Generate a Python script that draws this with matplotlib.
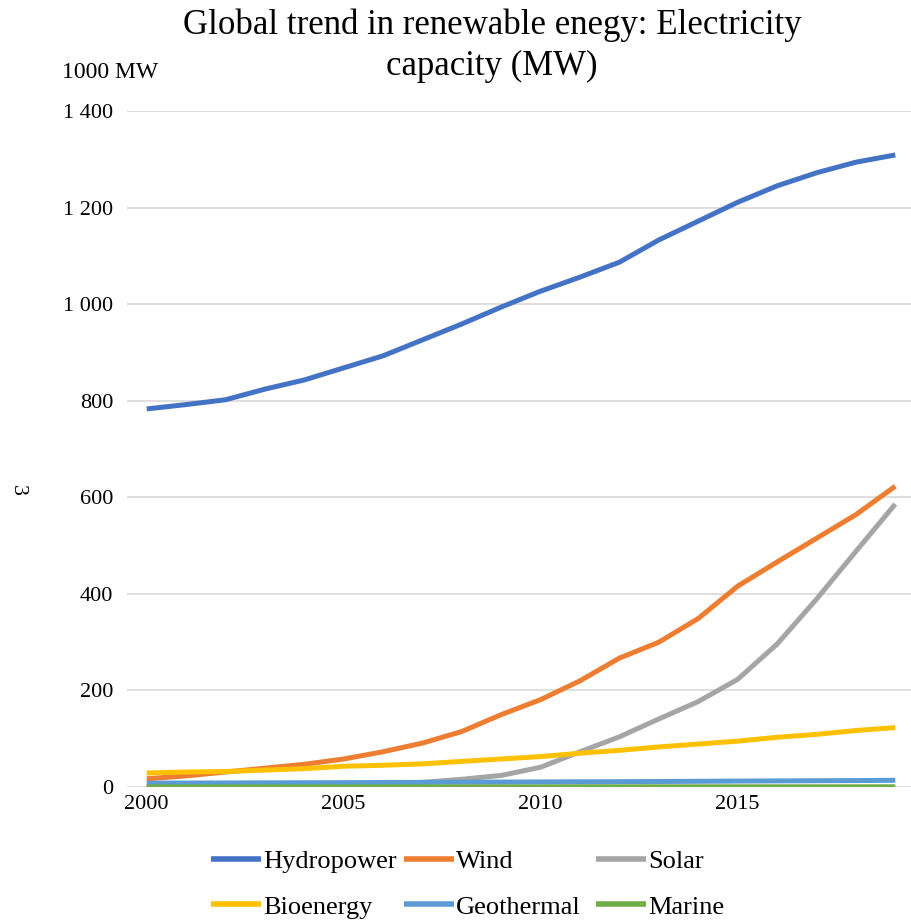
import matplotlib
matplotlib.use("Agg")
import matplotlib.pyplot as plt
from matplotlib.ticker import FuncFormatter

plt.rcParams['font.family'] = ['Liberation Serif', 'DejaVu Serif']

years = list(range(2000, 2020))
hydropower = [783, 792, 802, 824, 843, 868, 893, 926, 959, 994,
              1027, 1056, 1087, 1133, 1172, 1211, 1245, 1272, 1294, 1309]
wind = [17, 23, 31, 39, 47, 58, 73, 91, 115, 150,
        181, 220, 267, 300, 349, 416, 466, 515, 564, 623]
solar = [1.2, 1.6, 2.2, 3, 4, 5.5, 7, 9.5, 16, 24,
         41, 73, 104, 141, 177, 223, 296, 389, 488, 586]
bioenergy = [29, 31, 32, 35, 38, 43, 45, 48, 53, 58,
             63, 70, 76, 83, 89, 95, 103, 109, 117, 123]
geothermal = [8, 8.2, 8.4, 8.6, 8.8, 9, 9.3, 9.6, 9.9, 10.2,
              10.5, 10.8, 11, 11.4, 11.8, 12.3, 12.6, 13, 13.3, 13.9]
marine = [0.3, 0.3, 0.3, 0.3, 0.3, 0.3, 0.3, 0.3, 0.3, 0.3,
          0.3, 0.5, 0.5, 0.5, 0.5, 0.5, 0.5, 0.5, 0.5, 0.5]

series = [
    ("Hydropower", hydropower, "#4472C4"),
    ("Wind", wind, "#ED7D31"),
    ("Solar", solar, "#A5A5A5"),
    ("Bioenergy", bioenergy, "#FFC000"),
    ("Geothermal", geothermal, "#5B9BD5"),
    ("Marine", marine, "#70AD47"),
]

fig = plt.figure(figsize=(9.11, 9.21), dpi=100)
ax = fig.add_axes([127 / 911, 134 / 921, 788 / 911, 676 / 921])

lines = []
for name, vals, col in series:
    ln, = ax.plot(years, vals, color=col, lw=3.6, label=name,
                  solid_capstyle='butt', solid_joinstyle='round')
    lines.append(ln)

ax.set_xlim(1999.5, 2019.5)
ax.set_ylim(0, 1400)
ax.set_xticks([2000, 2005, 2010, 2015])
ax.set_yticks(range(0, 1401, 200))
ax.yaxis.set_major_formatter(FuncFormatter(lambda v, p: f"{int(v):,}".replace(",", " ")))
ax.grid(axis='y', color='#D9D9D9', lw=1.2)
ax.set_axisbelow(True)
for s in ax.spines.values():
    s.set_visible(False)
ax.tick_params(length=0, labelsize=16, colors='black')
ax.tick_params(axis='y', pad=10)
ax.tick_params(axis='x', pad=6)

fig.text(492 / 911, 1 - 46 / 921, "Global trend in renewable enegy: Electricity\ncapacity (MW)",
         ha='center', va='center', fontsize=25, linespacing=1.3)
fig.text(62 / 911, 1 - 73 / 921, "1000 MW", ha='left', va='center', fontsize=17)
fig.text(17 / 911, 1 - 490 / 921, "3", ha='center', va='center', fontsize=16, rotation=270)

# legend laid out row by row: one small legend per column
col_x = [211, 404, 596]
for i, x in enumerate(col_x):
    pair = [lines[i], lines[i + 3]]
    leg = fig.legend(pair, [l.get_label() for l in pair], loc='upper left',
                     bbox_to_anchor=(x / 911, 1 - 850 / 921), frameon=False,
                     fontsize=19, handlelength=1.9, handletextpad=0.08,
                     labelspacing=0.82, borderpad=0, borderaxespad=0)
    for h in leg.legend_handles:
        h.set_linewidth(4)

fig.savefig("out.png", dpi=100)
